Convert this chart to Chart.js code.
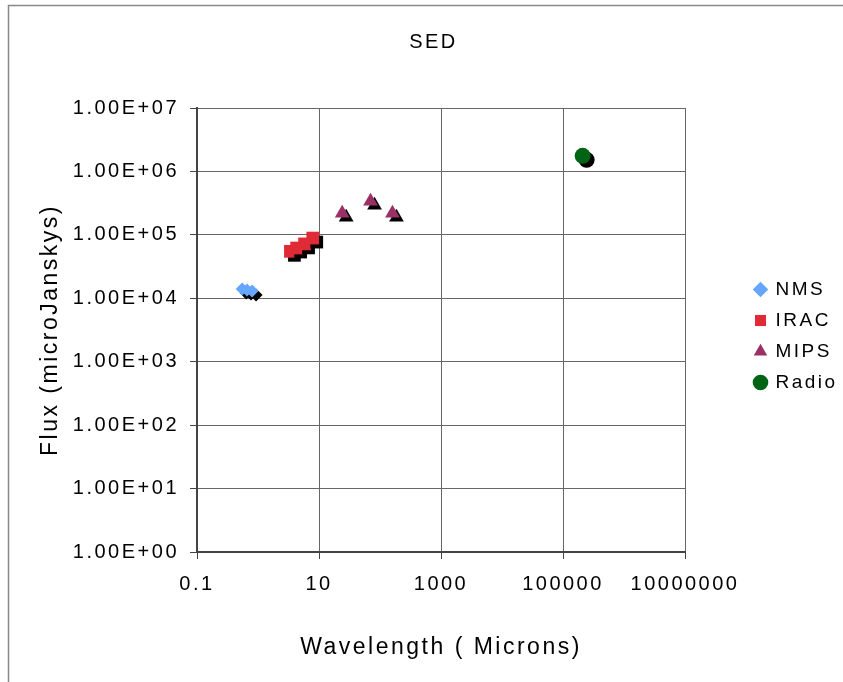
<!DOCTYPE html>
<html lang="en">
<head>
<meta charset="UTF-8">
<title>SED</title>
<script src="https://cdn.jsdelivr.net/npm/chart.js"></script>
<style>
  html, body { margin: 0; padding: 0; background: #fff; overflow: hidden; }
  canvas { display: block; }
</style>
</head>
<body>
<canvas id="sedChart" width="843" height="682"></canvas>
<script>
// wavelength in microns, flux in microJanskys
const nmsWave = [0.55, 0.66, 0.8];
const nmsFlux = [14000, 13500, 13000];
const iracWave = [3.4, 4.3, 5.8, 7.9];
const iracFlux = [55000, 62000, 72000, 89000];
const mipsWave = [24, 70, 160];
const mipsFlux = [220000, 340000, 220000];
const radioWave = [210000];
const radioFlux = [1760000];

const seriesNames = ["NMS", "IRAC", "MIPS", "Radio"];

const xTicks = [0.1, 10, 1000, 100000, 10000000];
const xTickLabels = ["0.1", "10", "1000", "100000", "10000000"];
const yTicks = [1, 10, 100, 1000, 10000, 100000, 1000000, 10000000];
const yTickLabels = ["1.00E+00", "1.00E+01", "1.00E+02", "1.00E+03", "1.00E+04", "1.00E+05", "1.00E+06", "1.00E+07"];

function toPoints(xs, ys) {
  return xs.map((x, i) => ({ x: x, y: ys[i] }));
}

// the old excel text is spaced out a bit
const spacing = {
  id: "spacing",
  beforeUpdate(chart) { chart.ctx.letterSpacing = "2.5px"; },
  beforeDraw(chart) { chart.ctx.letterSpacing = "2.5px"; }
};

// white page with the grey frame (right/bottom edges fall off the picture)
const frame = {
  id: "frame",
  beforeDraw(chart) {
    const ctx = chart.ctx;
    ctx.save();
    ctx.fillStyle = "#fff";
    ctx.fillRect(0, 0, chart.width, chart.height);
    ctx.strokeStyle = "#888";
    ctx.lineWidth = 1.5;
    ctx.strokeRect(8.5, 5.5, chart.width + 20, chart.height + 20);
    ctx.restore();
  }
};

// black drop shadow under the markers
const shadow = {
  id: "shadow",
  beforeDatasetsDraw(chart) {
    const ctx = chart.ctx;
    ctx.save();
    ctx.shadowColor = "#000";
    ctx.shadowOffsetX = 4;
    ctx.shadowOffsetY = 4;
    ctx.shadowBlur = 0;
  },
  afterDatasetsDraw(chart) {
    chart.ctx.restore();
  }
};

// legend sits near the right edge, title is a bit right of centre
const nudge = {
  id: "nudge",
  afterLayout(chart) {
    const lg = chart.legend;
    const dx = 743 - lg.left;
    lg.left += dx;
    lg.right += dx;
    lg.top -= 5;
    lg.bottom -= 5;
    const tb = chart.titleBlock;
    tb.left += 12;
    tb.right += 12;
  }
};

Chart.defaults.font.family = "'Liberation Sans', Arial, sans-serif";
Chart.defaults.font.size = 20;
Chart.defaults.color = "#000";

const ctx = document.getElementById("sedChart").getContext("2d");
new Chart(ctx, {
  type: "scatter",
  data: {
    datasets: [
      {
        label: seriesNames[0],
        data: toPoints(nmsWave, nmsFlux),
        pointStyle: "rectRot",
        pointRadius: 6.5,
        backgroundColor: "#66a6ff",
        borderColor: "#66a6ff",
        borderWidth: 0
      },
      {
        label: seriesNames[1],
        data: toPoints(iracWave, iracFlux),
        pointStyle: "rect",
        pointRadius: 9,
        backgroundColor: "#e02b36",
        borderColor: "#e02b36",
        borderWidth: 0
      },
      {
        label: seriesNames[2],
        data: toPoints(mipsWave, mipsFlux),
        pointStyle: "triangle",
        pointRadius: 8.5,
        backgroundColor: "#9a3065",
        borderColor: "#9a3065",
        borderWidth: 0
      },
      {
        label: seriesNames[3],
        data: toPoints(radioWave, radioFlux),
        pointStyle: "circle",
        pointRadius: 8,
        backgroundColor: "#006414",
        borderColor: "#006414",
        borderWidth: 0
      }
    ]
  },
  options: {
    responsive: false,
    animation: false,
    devicePixelRatio: 1,
    layout: { padding: 0 },
    plugins: {
      title: {
        display: true,
        text: "SED",
        font: { size: 20, weight: "normal" },
        padding: { top: 30, bottom: 54 }
      },
      legend: {
        position: "right",
        labels: {
          usePointStyle: true,
          boxWidth: 11,
          boxHeight: 11,
          padding: 12,
          font: { size: 19 }
        }
      },
      tooltip: { enabled: false }
    },
    scales: {
      x: {
        type: "logarithmic",
        min: 0.1,
        max: 10000000,
        afterBuildTicks: s => { s.ticks = xTicks.map(v => ({ value: v })); },
        afterFit: s => { s.height = 130; s.paddingRight = 158; },
        ticks: {
          callback: (v, i) => xTickLabels[i],
          autoSkip: false,
          maxRotation: 0,
          padding: 13
        },
        grid: { color: "#666", lineWidth: 1, tickLength: 7, tickColor: "#444" },
        border: { color: "#444", width: 2 },
        title: {
          display: true,
          text: "Wavelength ( Microns)",
          font: { size: 23 },
          padding: { top: 0, bottom: 21 }
        }
      },
      y: {
        type: "logarithmic",
        min: 1,
        max: 10000000,
        afterBuildTicks: s => { s.ticks = yTicks.map(v => ({ value: v })); },
        afterFit: s => { s.width = 197; },
        ticks: {
          callback: (v, i) => yTickLabels[i],
          autoSkip: false,
          padding: 11
        },
        grid: { color: "#666", lineWidth: 1, tickLength: 7, tickColor: "#444" },
        border: { color: "#444", width: 2 },
        title: {
          display: true,
          text: "Flux (microJanskys)",
          font: { size: 23 },
          padding: { top: 37, bottom: 0 }
        }
      }
    }
  },
  plugins: [spacing, frame, shadow, nudge]
});
</script>
</body>
</html>
